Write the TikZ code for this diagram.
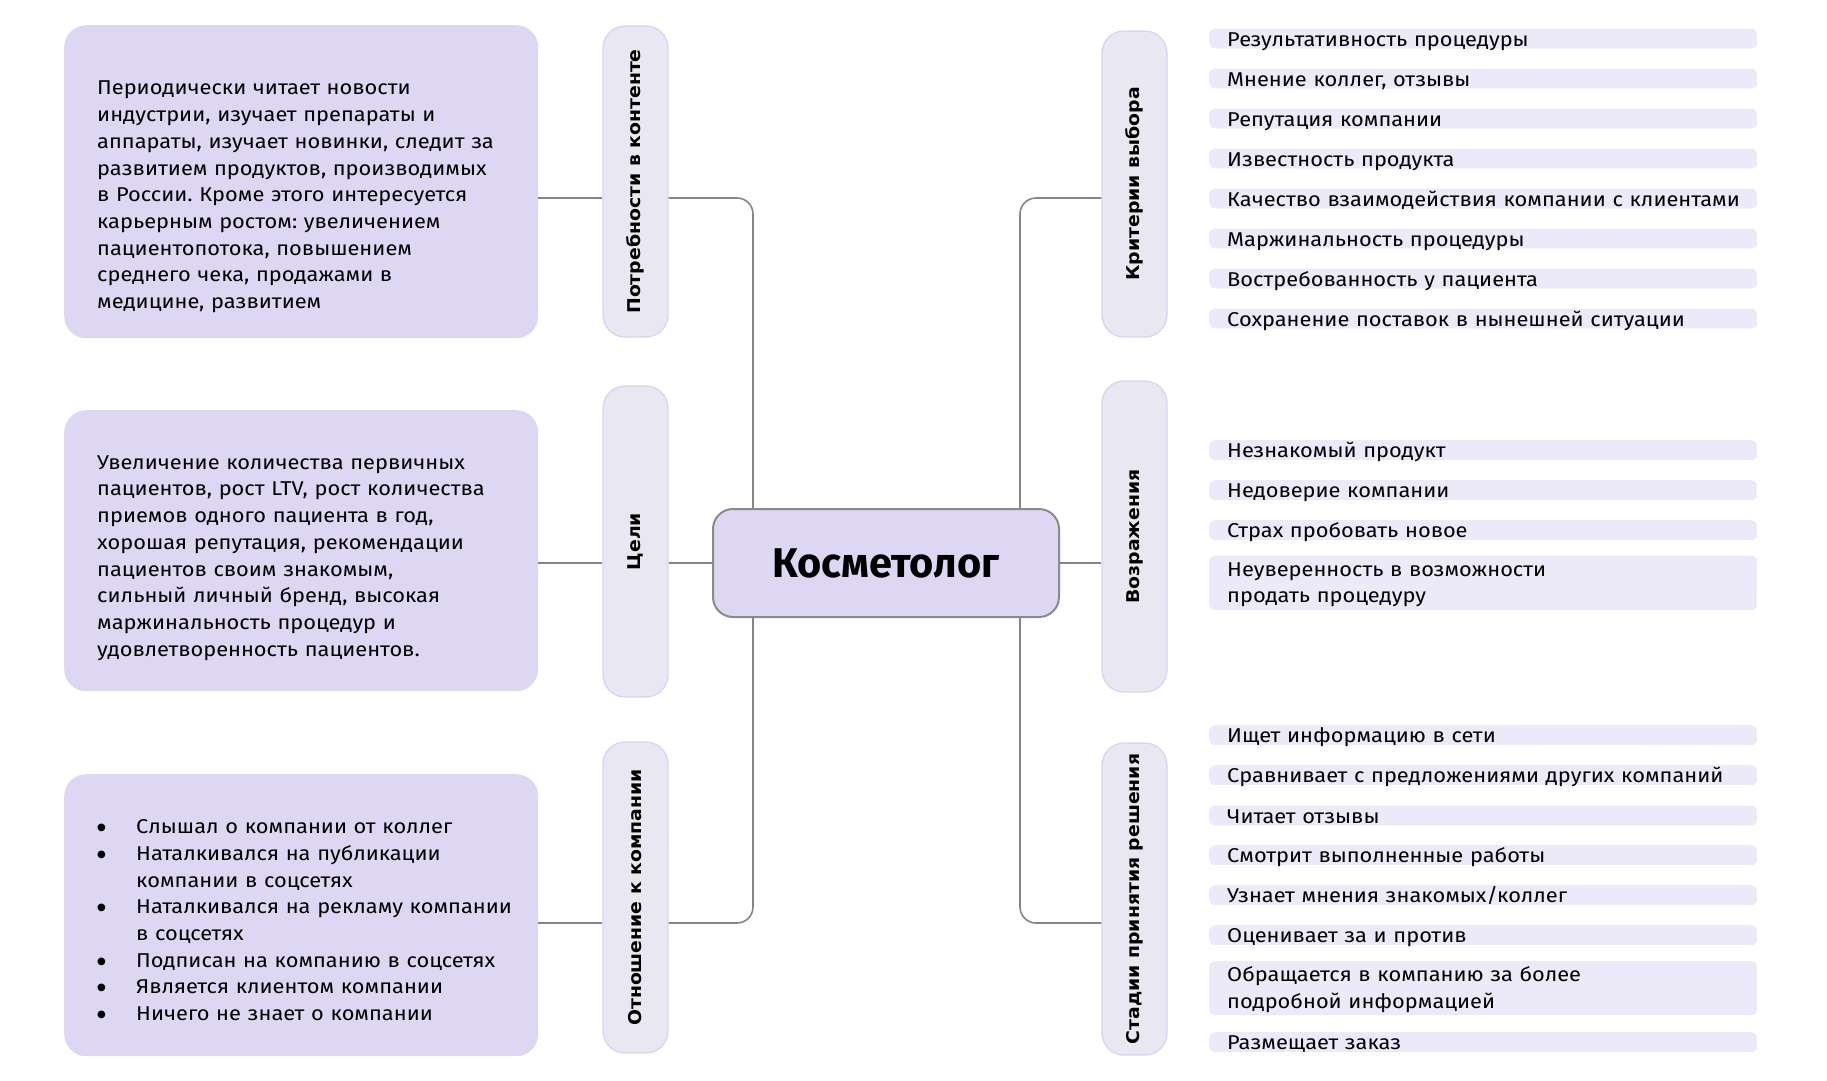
\documentclass[tikz,border=0pt]{standalone}
\usepackage{fontspec}
\usepackage{graphicx}
\setmainfont{Fira Sans}[FakeStretch=1.09]
\newfontfamily\centerfont{Fira Sans}
\newfontfamily\pillfont{DejaVu Sans}[FakeStretch=1.07]
\newfontfamily\symfont{DejaVu Sans}
\definecolor{boxfill}{HTML}{DDD7F4}
\definecolor{pillfill}{HTML}{E9E7F1}
\definecolor{pilldraw}{HTML}{DAD3F7}
\definecolor{barfill}{HTML}{ECE9F8}
\definecolor{linec}{HTML}{858585}
\definecolor{centerdraw}{HTML}{8A8A8A}
\newcommand{\bul}{\makebox[39pt][l]{\raisebox{3pt}{\symfont\fontsize{10}{10}\selectfont ●}}}
\newcommand{\ind}{\hspace*{39pt}}
\frenchspacing
\begin{document}
\begin{tikzpicture}[x=1pt,y=-1pt,
  infobox/.style={fill=boxfill, rounded corners=22pt, anchor=north west, inner xsep=33pt, inner ysep=0pt,
     text width=408pt, align=left, font=\fontsize{20}{26.7}\selectfont},
  pillbox/.style={fill=pillfill, draw=pilldraw, line width=1.3pt, rounded corners=22pt,
     minimum width=65pt, inner sep=0pt, font=\pillfont\bfseries\fontsize{17.6}{20}\selectfont},
  itembar/.style={fill=barfill, rounded corners=6pt, anchor=north west, inner xsep=18pt, inner ysep=0pt,
     text width=512pt, align=left, text height=17.5pt, text depth=2.5pt, font=\fontsize{20}{26.7}\selectfont},
  conn/.style={draw=linec, line width=1.6pt, rounded corners=16pt},
  centerbox/.style={fill=boxfill, draw=centerdraw, line width=2pt, rounded corners=20pt,
     minimum width=346pt, minimum height=108pt, font=\centerfont\bfseries\fontsize{41.5}{48}\selectfont}
]
\useasboundingbox (0,0) rectangle (1827,1080);

% left info boxes
\node[infobox, text height=69.7pt, text depth=243.3pt] (box1) at (64,25) {%
Периодически читает новости\\
индустрии, изучает препараты и\\
\mbox{аппараты, изучает новинки, следит за}\\
\mbox{развитием продуктов, производимых}\\
\mbox{в России. Кроме этого интересуется}\\
карьерным ростом: увеличением\\
пациентопотока, повышением\\
среднего чека, продажами в\\
медицине, развитием};

\node[infobox, text height=59pt, text depth=222pt] (box2) at (64,410) {%
Увеличение количества первичных\\
\mbox{пациентов, рост LTV, рост количества}\\
приемов одного пациента в год,\\
хорошая репутация, рекомендации\\
пациентов своим знакомым,\\
сильный личный бренд, высокая\\
маржинальность процедур и\\
удовлетворенность пациентов.};

\node[infobox, text height=59.4pt, text depth=222.6pt] (box3) at (64,774) {%
\bul Слышал о компании от коллег\\
\bul Наталкивался на публикации\\
\ind компании в соцсетях\\
\mbox{\bul Наталкивался на рекламу компании}\\
\ind в соцсетях\\
\mbox{\bul Подписан на компанию в соцсетях}\\
\bul Является клиентом компании\\
\bul Ничего не знает о компании};

% left pills
\node[pillbox, minimum height=311pt] (p1) at (635.5,181.5) {\rotatebox{90}{Потребности в контенте}};
\node[pillbox, minimum height=311pt] (p2) at (635.5,541.5) {\rotatebox{90}{Цели}};
\node[pillbox, minimum height=311pt] (p3) at (635.5,897.5) {\rotatebox{90}{Отношение к компании}};

% right pills
\node[pillbox, minimum height=306pt] (r1) at (1134.5,184) {\rotatebox{90}{Критерии выбора}};
\node[pillbox, minimum height=311pt] (r2) at (1134.5,536.5) {\rotatebox{90}{Возражения}};
\node[pillbox, minimum height=312pt] (r3) at (1134.5,899) {\rotatebox{90}{Стадии принятия решения}};

% center
\node[centerbox] (ctr) at (886,563) {Косметолог};

% connector helper coordinates
\coordinate (yA) at (0,198);
\coordinate (yB) at (0,563);
\coordinate (yC) at (0,923);
\coordinate (lx) at (753,0);
\coordinate (rx) at (1020,0);

\draw[conn] (box1.east |- yA) -- (p1.west |- yA);
\draw[conn] (p1.east |- yA) -| (ctr.north -| lx);
\draw[conn] (box2.east |- yB) -- (p2.west |- yB);
\draw[conn] (p2.east |- yB) -- (ctr.west |- yB);
\draw[conn] (box3.east |- yC) -- (p3.west |- yC);
\draw[conn] (p3.east |- yC) -| (ctr.south -| lx);
\draw[conn] (ctr.north -| rx) |- (r1.west |- yA);
\draw[conn] (ctr.east |- yB) -- (r2.west |- yB);
\draw[conn] (ctr.south -| rx) |- (r3.west |- yC);

% criteria items
\node[itembar] (c1) at (1209,28.3) {Результативность процедуры};
\node[itembar] (c2) at (1209,68.3) {Мнение коллег, отзывы};
\node[itembar] (c3) at (1209,108.3) {Репутация компании};
\node[itembar] (c4) at (1209,148.3) {Известность продукта};
\node[itembar] (c5) at (1209,188.3) {\mbox{Качество взаимодействия компании с клиентами}};
\node[itembar] (c6) at (1209,228.3) {Маржинальность процедуры};
\node[itembar] (c7) at (1209,268.3) {Востребованность у пациента};
\node[itembar] (c8) at (1209,308.3) {Сохранение поставок в нынешней ситуации};

% objections
\node[itembar] (o1) at (1209,440) {Незнакомый продукт};
\node[itembar] (o2) at (1209,480) {Недоверие компании};
\node[itembar] (o3) at (1209,520) {Страх пробовать новое};
\node[itembar, text height=20.5pt, text depth=34pt] (o4) at (1209,555.5) {Неуверенность в возможности\\продать процедуру};

% stages
\node[itembar] (s1) at (1209,725) {Ищет информацию в сети};
\node[itembar] (s2) at (1209,765) {\mbox{Сравнивает с предложениями других компаний}};
\node[itembar] (s3) at (1209,805.5) {Читает отзывы};
\node[itembar] (s4) at (1209,845) {Смотрит выполненные работы};
\node[itembar] (s5) at (1209,885) {Узнает мнения знакомых/коллег};
\node[itembar] (s6) at (1209,925) {Оценивает за и против};
\node[itembar, text height=20.5pt, text depth=33.5pt] (s7) at (1209,961) {Обращается в компанию за более\\подробной информацией};
\node[itembar] (s8) at (1209,1032) {Размещает заказ};
\end{tikzpicture}
\end{document}
